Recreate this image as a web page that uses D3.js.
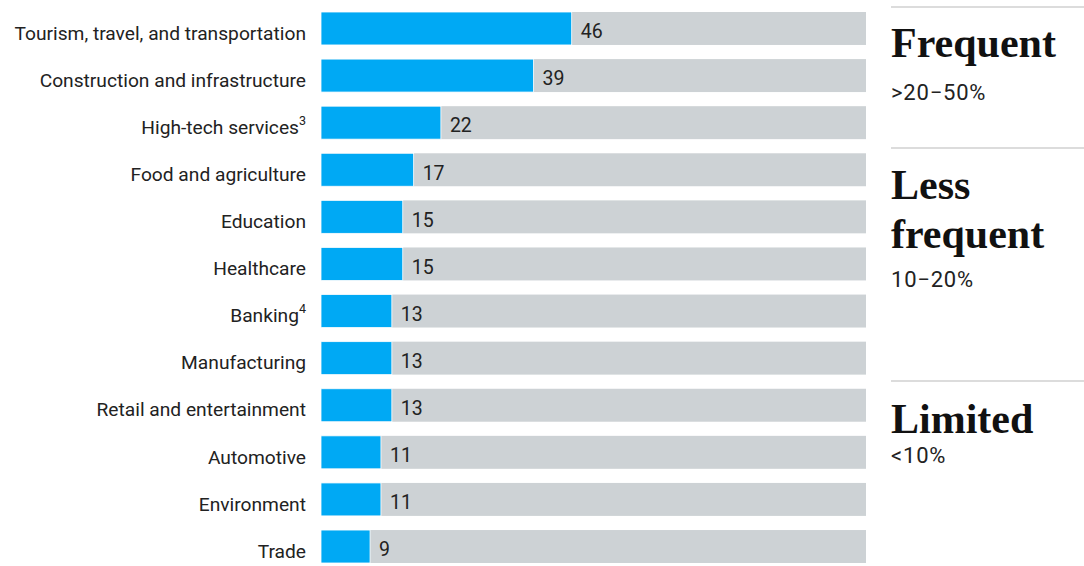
<!DOCTYPE html>
<html>
<head>
<meta charset="utf-8">
<script src="https://cdn.jsdelivr.net/npm/d3@7"></script>
<style>
  body { margin: 0; background: #fff; }
  svg { display: block; }
</style>
</head>
<body>
<svg id="chart" width="1084" height="566"></svg>
<script>
const categories = [
  "Tourism, travel, and transportation",
  "Construction and infrastructure",
  "High-tech services",
  "Food and agriculture",
  "Education",
  "Healthcare",
  "Banking",
  "Manufacturing",
  "Retail and entertainment",
  "Automotive",
  "Environment",
  "Trade"
];
const footnotes = ["", "", "3", "", "", "", "4", "", "", "", "", ""];
const values = [46, 39, 22, 17, 15, 15, 13, 13, 13, 11, 11, 9];

const groupTitles = [["Frequent"], ["Less", "frequent"], ["Limited"]];
const groupRanges = [">20\u221250%", "10\u221220%", "<10%"];

const svg = d3.select("#chart");
const sans = "Roboto, 'Liberation Sans', Arial, sans-serif";
const serif = "'Liberation Serif', 'Times New Roman', serif";

const x = d3.scaleLinear().domain([0, 100]).range([321, 866]);
const y = d3.scaleBand().domain(categories).range([12, 563]).paddingInner(0.3).paddingOuter(0);

// fond gris
svg.append("g").selectAll("rect")
  .data(categories)
  .join("rect")
  .attr("x", x(0))
  .attr("y", d => y(d))
  .attr("width", x(100) - x(0))
  .attr("height", y.bandwidth())
  .attr("fill", "#cdd2d5");

// barres bleues
svg.append("g").selectAll("rect")
  .data(values)
  .join("rect")
  .attr("x", x(0))
  .attr("y", (d, i) => y(categories[i]))
  .attr("width", d => x(d) - x(0))
  .attr("height", y.bandwidth())
  .attr("fill", "#00a9f4")
  .attr("stroke", "#fff")
  .attr("stroke-width", 0.8);

// valeurs
svg.append("g").selectAll("text")
  .data(values)
  .join("text")
  .attr("x", d => x(d) + 9)
  .attr("y", (d, i) => y(categories[i]) + y.bandwidth() / 2 + 3)
  .attr("dy", "0.35em")
  .attr("font-family", sans)
  .attr("font-size", 19.5)
  .attr("fill", "#222")
  .text(d => d);

// libellés
const labels = svg.append("g").selectAll("text")
  .data(categories)
  .join("text")
  .attr("x", 306)
  .attr("y", d => y(d) + y.bandwidth() / 2 + 4.5)
  .attr("dy", "0.35em")
  .attr("text-anchor", "end")
  .attr("font-family", sans)
  .attr("font-size", 19.2)
  .attr("fill", "#222");
labels.append("tspan").text(d => d);
labels.append("tspan")
  .attr("font-size", 12.5)
  .attr("dy", "-0.75em")
  .text((d, i) => footnotes[i]);

// panneau droit
const lineYs = [7, 148, 381];
const titleYs = [57, 199, 433];
const rangeYs = [100, 287, 463];

lineYs.forEach((ly, i) => {
  svg.append("line")
    .attr("x1", 891).attr("x2", 1084)
    .attr("y1", ly).attr("y2", ly)
    .attr("stroke", "#b9b9b9")
    .attr("stroke-width", 1);

  groupTitles[i].forEach((t, j) => {
    svg.append("text")
      .attr("x", 891)
      .attr("y", titleYs[i] + j * 49)
      .attr("font-family", serif)
      .attr("font-weight", "bold")
      .attr("font-size", 42)
      .attr("fill", "#111")
      .text(t);
  });

  svg.append("text")
    .attr("x", 891)
    .attr("y", rangeYs[i])
    .attr("font-family", sans)
    .attr("font-size", 22)
    .attr("letter-spacing", 0.8)
    .attr("fill", "#222")
    .text(groupRanges[i]);
});
</script>
</body>
</html>
